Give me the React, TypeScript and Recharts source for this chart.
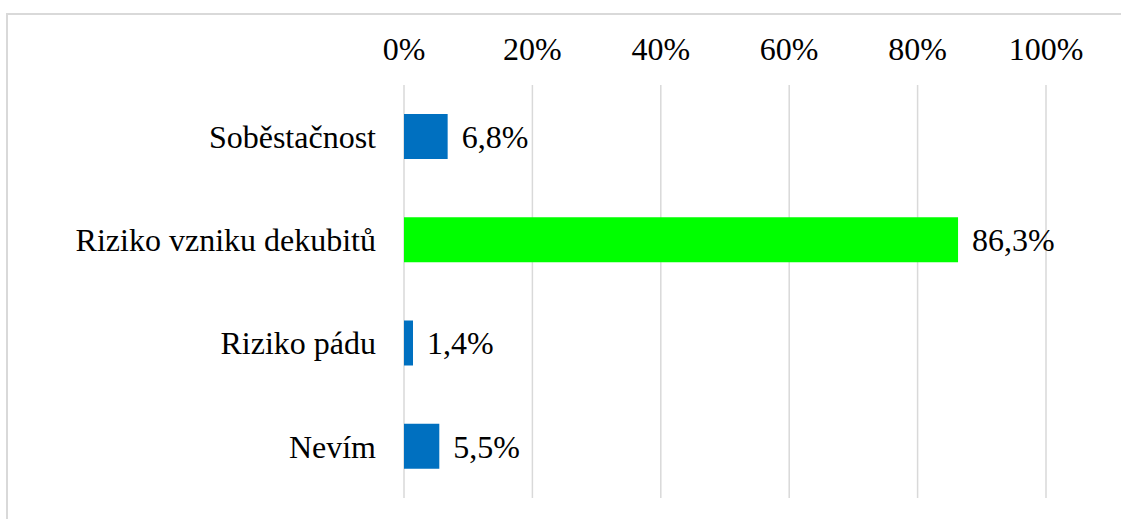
import React from "react";
import { BarChart, Bar, XAxis, YAxis, CartesianGrid, Cell, LabelList } from "recharts";

const categories = ["Soběstačnost", "Riziko vzniku dekubitů", "Riziko pádu", "Nevím"];
const values = [6.8, 86.3, 1.4, 5.5];
const colors = ["#0070C0", "#00FF00", "#0070C0", "#0070C0"];
const ticks = [0, 20, 40, 60, 80, 100];

const data = categories.map((name, i) => ({ name, value: values[i] }));

const textStyle: React.CSSProperties = {
  fontFamily: "'Liberation Serif', 'Times New Roman', 'DejaVu Serif', serif",
  fontSize: 32,
  fill: "#000",
};

const fmtPct = (v: number) => `${String(v).replace(".", ",")}%`;

// top axis tick: centred above the gridline
const XTick = (props: any) => {
  const { x, y, payload } = props;
  return (
    <text x={x} y={y - 25} textAnchor="middle" style={textStyle}>
      {fmtPct(payload.value)}
    </text>
  );
};

// category label: right-aligned, vertically centred
const YTick = (props: any) => {
  const { x, y, payload } = props;
  return (
    <text x={x - 28} y={y} dy="0.35em" textAnchor="end" style={textStyle}>
      {payload.value}
    </text>
  );
};

export default function App() {
  return (
    <div style={{ position: "absolute", left: 0, top: 0, width: 1121, height: 519, background: "#fff", overflow: "hidden" }}>
      {/* chart frame: only left and top edges visible */}
      <div
        style={{
          position: "absolute",
          left: 6,
          top: 13,
          width: 1115,
          height: 506,
          boxSizing: "border-box",
          borderLeft: "2px solid #d9d9d9",
          borderTop: "2px solid #d9d9d9",
        }}
      />
      <div style={{ position: "absolute", left: 0, top: 0 }}>
        <BarChart
          width={1121}
          height={519}
          data={data}
          layout="vertical"
          margin={{ top: 20, right: 75, bottom: 21, left: 0 }}
          barSize={45}
        >
          <CartesianGrid horizontal={false} stroke="#d9d9d9" strokeWidth={1.5} />
          <XAxis
            type="number"
            orientation="top"
            domain={[0, 100]}
            ticks={ticks}
            axisLine={false}
            tickLine={false}
            tickSize={0}
            tickMargin={0}
            height={65}
            interval={0}
            tick={<XTick />}
          />
          <YAxis
            type="category"
            dataKey="name"
            width={404}
            axisLine={false}
            tickLine={false}
            tickSize={0}
            tickMargin={0}
            interval={0}
            tick={<YTick />}
          />
          <Bar dataKey="value" isAnimationActive={false}>
            {data.map((d, i) => (
              <Cell key={d.name} fill={colors[i]} />
            ))}
            <LabelList
              dataKey="value"
              position="right"
              offset={14}
              formatter={fmtPct}
              style={textStyle}
            />
          </Bar>
        </BarChart>
      </div>
    </div>
  );
}
